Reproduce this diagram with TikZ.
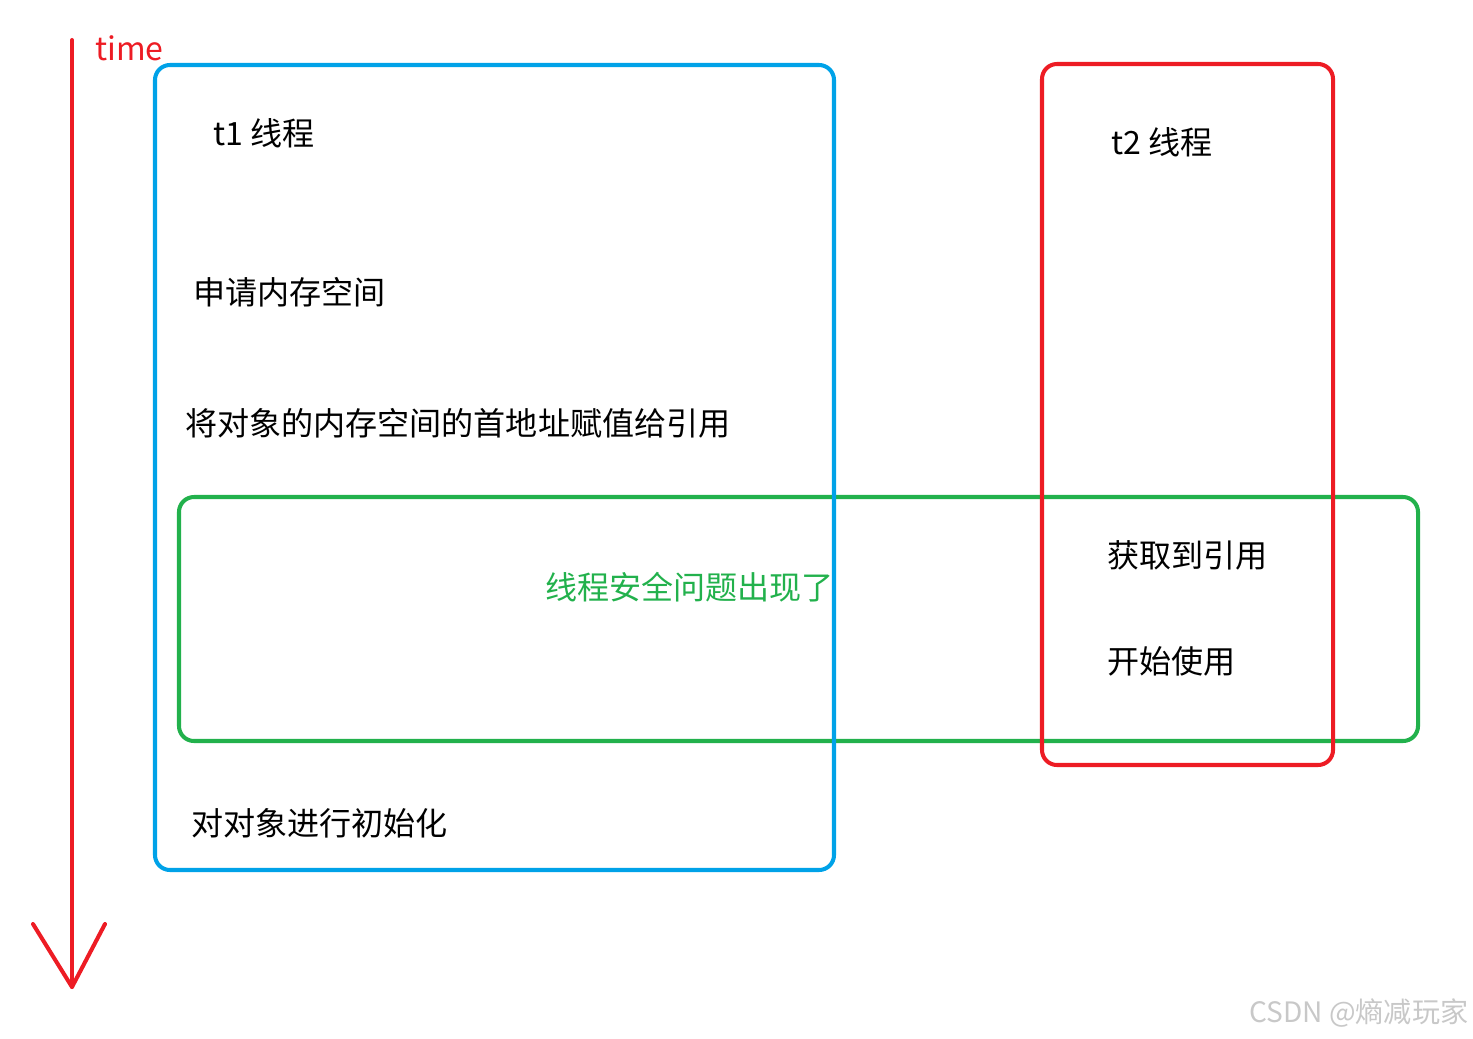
\documentclass[tikz,border=0pt]{standalone}
\usepackage{fontspec}
\setmainfont{Noto Sans CJK SC}
\definecolor{paintblue}{HTML}{00A2E8}
\definecolor{paintred}{HTML}{ED1C24}
\definecolor{paintgreen}{HTML}{22B14C}
\definecolor{markgray}{HTML}{C8C8C8}

\begin{document}
\begin{tikzpicture}[
  x=0.02cm, y=-0.02cm,
  frame/.style={line width=2.3pt, rounded corners=0.3cm},
  txt/.style={anchor=base west, inner sep=0pt, font=\fontsize{18.25}{22}\selectfont},
  timeline/.style={paintred, line width=2.3pt, line cap=round, line join=round}
]
  \useasboundingbox (0,0) rectangle (1473,1038);

  % time axis
  \coordinate (timetop) at (72,40);
  \coordinate (timeend) at (72,987);
  \coordinate (barbleft) at (33,924);
  \coordinate (barbright) at (105,924);
  \draw[timeline] (timetop) -- (timeend);
  \draw[timeline] (barbleft) -- (timeend) -- (barbright);
  \node[txt, text=paintred] (timelabel) at (95,60) {time};

  % frames: the overlap first, the threads on top
  \draw[frame, paintgreen] (179,497) rectangle (1418,741);
  \draw[frame, paintblue] (155,65) rectangle (834,870);
  \draw[frame, paintred] (1042,64) rectangle (1333,765);

  % thread t1
  \node[txt] (t1) at (213,145) {t1 线程};
  \node[txt] (alloc) at (193,304) {申请内存空间};
  \node[txt] (assign) at (185,435) {将对象的内存空间的首地址赋值给引用};
  \node[txt] (init) at (191,835) {对对象进行初始化};

  % thread t2
  \node[txt] (t2) at (1111,154) {t2 线程};
  \node[txt] (getref) at (1107,567) {获取到引用};
  \node[txt] (use) at (1107,673) {开始使用};

  \node[txt, text=paintgreen] (issue) at (545,599) {线程安全问题出现了};

  \node[txt, text=markgray, font=\fontsize{16}{20}\selectfont] (mark) at (1249,1022) {CSDN @熵减玩家};
\end{tikzpicture}
\end{document}
